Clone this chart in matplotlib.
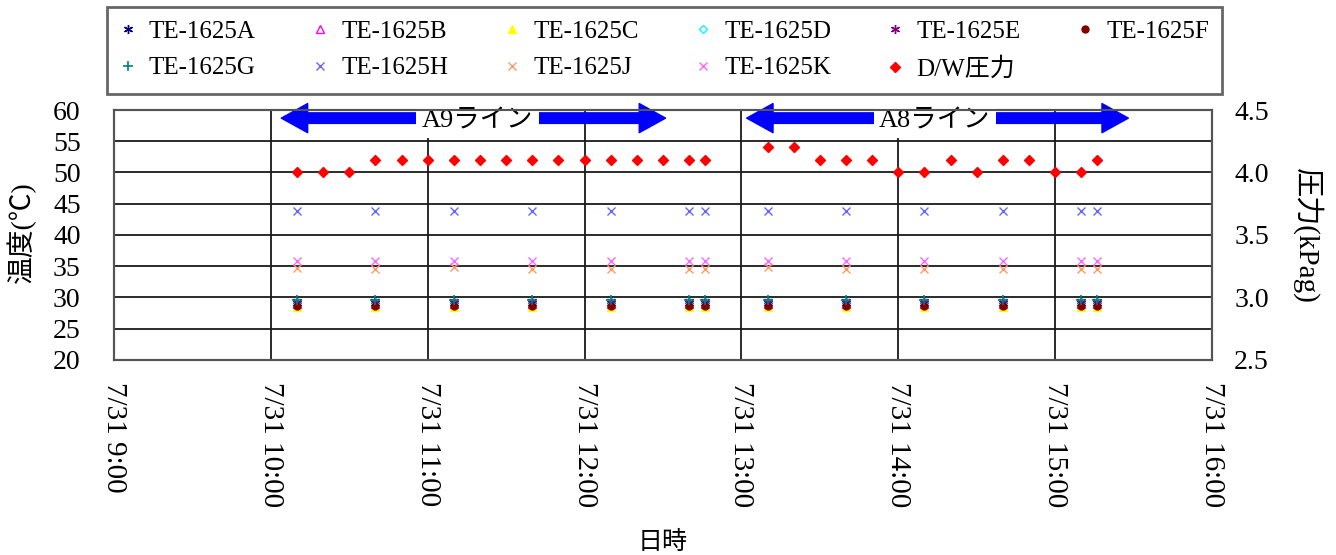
import matplotlib
matplotlib.use("Agg")
import matplotlib.dates as mdates
import matplotlib.pyplot as plt
import pandas as pd
from matplotlib.ticker import FormatStrFormatter, MultipleLocator

plt.rcParams["font.family"] = ["Liberation Serif", "Noto Sans CJK JP"]
plt.rcParams["axes.unicode_minus"] = False

DAY = "2013-07-31 "

# 温度測定時刻
temp_times = ["10:10", "10:40", "11:10", "11:40", "12:10", "12:40", "12:46",
              "13:10", "13:40", "14:10", "14:40", "15:10", "15:16"]

te_1625a = [29.4, 29.4, 29.4, 29.4, 29.4, 29.4, 29.4, 29.4, 29.4, 29.4, 29.4, 29.4, 29.4]
te_1625b = [28.9, 28.9, 28.9, 28.9, 28.9, 28.9, 28.9, 28.9, 28.9, 28.9, 28.9, 28.9, 28.9]
te_1625c = [28.5, 28.5, 28.5, 28.5, 28.5, 28.5, 28.5, 28.5, 28.5, 28.5, 28.5, 28.5, 28.5]
te_1625d = [29.3, 29.3, 29.3, 29.3, 29.3, 29.3, 29.3, 29.3, 29.3, 29.3, 29.3, 29.3, 29.3]
te_1625e = [29.1, 29.1, 29.1, 29.1, 29.1, 29.1, 29.1, 29.1, 29.1, 29.1, 29.1, 29.1, 29.1]
te_1625f = [28.7, 28.7, 28.7, 28.7, 28.7, 28.7, 28.7, 28.7, 28.7, 28.7, 28.7, 28.7, 28.7]
te_1625g = [29.6, 29.6, 29.6, 29.6, 29.6, 29.6, 29.6, 29.6, 29.6, 29.6, 29.6, 29.6, 29.6]
te_1625h = [43.8, 43.8, 43.8, 43.8, 43.8, 43.8, 43.8, 43.8, 43.8, 43.8, 43.8, 43.8, 43.8]
te_1625j = [34.7, 34.5, 34.8, 34.6, 34.6, 34.6, 34.6, 34.8, 34.5, 34.6, 34.6, 34.6, 34.6]
te_1625k = [35.8, 35.8, 35.8, 35.8, 35.8, 35.8, 35.8, 35.8, 35.8, 35.8, 35.8, 35.8, 35.8]

# D/W圧力
dw_times = ["10:10", "10:20", "10:30", "10:40", "10:50", "11:00", "11:10", "11:20",
            "11:30", "11:40", "11:50", "12:00", "12:10", "12:20", "12:30", "12:40",
            "12:46",
            "13:10", "13:20", "13:30", "13:40", "13:50", "14:00", "14:10", "14:20",
            "14:30", "14:40", "14:50", "15:00", "15:10", "15:16"]
dw_pressure = [4.0, 4.0, 4.0, 4.1, 4.1, 4.1, 4.1, 4.1,
               4.1, 4.1, 4.1, 4.1, 4.1, 4.1, 4.1, 4.1,
               4.1,
               4.2, 4.2, 4.1, 4.1, 4.1, 4.0, 4.0, 4.1,
               4.0, 4.1, 4.1, 4.0, 4.0, 4.1]

# ライン区間の矢印 (左矢印先端, 左矢印根元, 文字位置, 右矢印根元, 右矢印先端)
line_names = ["A9ライン", "A8ライン"]
line_spans = [["10:04", "10:57", "11:19", "11:41", "12:31"],
              ["13:02", "13:53", "14:14", "14:35", "15:28"]]


def to_dt(times):
    return pd.to_datetime([DAY + t for t in times])


t_temp = to_dt(temp_times)
t_dw = to_dt(dw_times)

series = [
    ("TE-1625A", te_1625a, dict(marker=(6, 2, 0), color="#000080", ms=6.5, mew=1.0)),
    ("TE-1625B", te_1625b, dict(marker="^", mfc="none", mec="#ff00ff", ms=5.5, mew=1.0)),
    ("TE-1625C", te_1625c, dict(marker="^", color="#ffff00", ms=5.5)),
    ("TE-1625D", te_1625d, dict(marker="D", mfc="none", mec="#00ffff", ms=4.5, mew=1.0)),
    ("TE-1625E", te_1625e, dict(marker=(6, 2, 0), color="#800080", ms=6.5, mew=1.0)),
    ("TE-1625F", te_1625f, dict(marker="o", color="#800000", ms=5)),
    ("TE-1625G", te_1625g, dict(marker="+", color="#008080", ms=6.5, mew=1.2)),
    ("TE-1625H", te_1625h, dict(marker="x", color="#6464ff", ms=5.5, mew=1.0)),
    ("TE-1625J", te_1625j, dict(marker="x", color="#ff9966", ms=5.5, mew=1.0)),
    ("TE-1625K", te_1625k, dict(marker="x", color="#ff66ff", ms=5.5, mew=1.0)),
]

fig = plt.figure(figsize=(13.36, 5.55), dpi=100, facecolor="white")
ax = fig.add_axes([0.0853, 0.3514, 0.8219, 0.4504])
ax2 = ax.twinx()

handles = {}
for name, vals, style in series:
    (h,) = ax.plot(t_temp, vals, linestyle="none", label=name, zorder=3, **style)
    handles[name] = h

(h_dw,) = ax2.plot(t_dw, dw_pressure, linestyle="none", marker="D", color="#ff0000",
                   ms=5.5, label="D/W圧力", zorder=3)
handles["D/W圧力"] = h_dw

# 軸範囲・目盛
ax.set_xlim(pd.Timestamp(DAY + "09:00"), pd.Timestamp(DAY + "16:00"))
ax.set_ylim(20, 60)
ax.yaxis.set_major_locator(MultipleLocator(5))
ax2.set_ylim(2.5, 4.5)
ax2.yaxis.set_major_locator(MultipleLocator(0.5))
ax2.yaxis.set_major_formatter(FormatStrFormatter("%.1f"))

ax.xaxis.set_major_locator(mdates.HourLocator())
ax.xaxis.set_major_formatter(mdates.DateFormatter("%-m/%d %-H:%M"))
ax.tick_params(axis="x", length=0, pad=16, labelsize=21, labelrotation=-90)
ax.tick_params(axis="y", length=0, pad=24, labelsize=20)
ax2.tick_params(axis="y", length=0, pad=16, labelsize=20)
for lbl in ax.get_xticklabels():
    lbl.set_va("top")
    lbl.set_ha("center")

ax.grid(True, color="#1a1a1a", linewidth=1.3)
ax.set_axisbelow(True)
for a in (ax, ax2):
    for sp in a.spines.values():
        sp.set_color("#555555")
        sp.set_linewidth(1.5)

ax.set_ylabel("温度(℃)", fontsize=20, va="center")
ax.yaxis.set_label_coords(-0.084, 0.51)
ax2.set_ylabel("圧力(kPag)", fontsize=21, rotation=-90, va="center")
ax2.yaxis.set_label_coords(1.0865, 0.496)
ax.set_xlabel("日時", fontsize=18, va="center")
ax.xaxis.set_label_coords(0.5, -0.73)

# ライン区間の矢印と名称
arrow_y = 58.7
arrow_props = dict(arrowstyle="simple,head_length=0.95,head_width=1.05,tail_width=0.38",
                   color="#0000ff", shrinkA=0, shrinkB=0, mutation_scale=20)
for name, span in zip(line_names, line_spans):
    x_head_l, x_tail_l, x_text, x_tail_r, x_head_r = [mdates.date2num(t) for t in to_dt(span)]
    ax.annotate("", xy=(x_head_l, arrow_y), xytext=(x_tail_l, arrow_y),
                arrowprops=arrow_props, annotation_clip=False, zorder=5)
    ax.annotate("", xy=(x_head_r, arrow_y), xytext=(x_tail_r, arrow_y),
                arrowprops=arrow_props, annotation_clip=False, zorder=5)
    ax.text(x_text, arrow_y - 0.6, name, fontsize=19, ha="center", va="center", zorder=6,
            bbox=dict(facecolor="white", edgecolor="none", pad=4))

# 凡例 (2行6列、行方向に並べる)
order = ["TE-1625A", "TE-1625G", "TE-1625B", "TE-1625H", "TE-1625C", "TE-1625J",
         "TE-1625D", "TE-1625K", "TE-1625E", "D/W圧力", "TE-1625F"]
leg = fig.legend([handles[k] for k in order], order, ncol=6, loc="center",
                 bbox_to_anchor=(0.0801, 0.8324, 0.8346, 0.1532), mode="expand",
                 fontsize=18, frameon=True, fancybox=False, handlelength=0.6,
                 handletextpad=0.55, labelspacing=0.56, borderpad=0.52,
                 borderaxespad=0.0, numpoints=1)
leg.get_frame().set_edgecolor("#404040")
leg.get_frame().set_linewidth(2)

fig.savefig("out.png", dpi=100, facecolor="white")
